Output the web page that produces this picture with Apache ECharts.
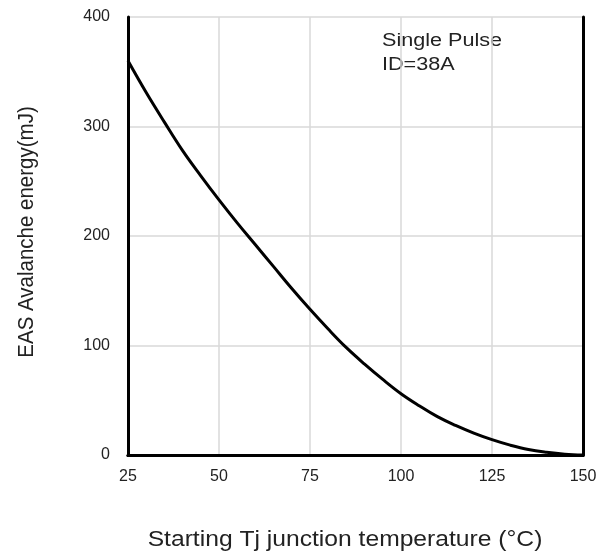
<!DOCTYPE html>
<html><head><meta charset="utf-8">
<script src="https://cdn.jsdelivr.net/npm/echarts@6/dist/echarts.min.js"></script>
<style>html,body{margin:0;padding:0;background:#fff}#c{width:611px;height:556px}</style>
</head><body><div id="c"></div>
<script>
const temps = [25,30,35,40,45,50,55,60,65,70,75,80,85,90,95,100,105,110,115,120,125,130,135,140,145,150];
const energy = [360,331,304,278,255,233,212,192,172,152,133,115,98,83,69,56,45,35,27,20,14,9,5,2.5,0.8,0];
const xTicks = [25,50,75,100,125,150];
const yTicks = [0,100,200,300,400];
const xTitle = 'Starting Tj junction temperature (°C)';
const yTitle = 'EAS Avalanche energy(mJ)';
const noteLines = ['Single Pulse','ID=38A'];

const chart = echarts.init(document.getElementById('c'));
const font = 'Liberation Sans, Arial, sans-serif';
const txt = '#222';
const border = {show:true,lineStyle:{color:'#000',width:3}};
chart.setOption({
  animation:false,
  grid:{left:128,right:28,top:17,bottom:101,show:false},
  xAxis:[{type:'value',min:xTicks[0],max:xTicks[xTicks.length-1],interval:25,
    axisLine:border,axisTick:{show:false},
    splitLine:{show:true,lineStyle:{color:'#d9d9d9',width:1.5}},
    axisLabel:{color:txt,fontSize:16,fontFamily:font,margin:14}},
    {type:'value',position:'top',min:xTicks[0],max:xTicks[xTicks.length-1],interval:25,
    axisLine:border,axisTick:{show:false},splitLine:{show:false},axisLabel:{show:false}}],
  yAxis:[{type:'value',min:yTicks[0],max:yTicks[yTicks.length-1],interval:100,
    axisLine:border,axisTick:{show:false},
    splitLine:{show:true,lineStyle:{color:'#d9d9d9',width:1.5}},
    axisLabel:{color:txt,fontSize:16,fontFamily:font,margin:18}},
    {type:'value',position:'right',min:yTicks[0],max:yTicks[yTicks.length-1],interval:100,
    axisLine:border,axisTick:{show:false},splitLine:{show:false},axisLabel:{show:false}}],
  series:[{type:'line',data:temps.map((t,i)=>[t,energy[i]]),smooth:0.4,showSymbol:false,
    lineStyle:{color:'#000',width:3},z:3}],
  graphic:[
    {type:'text',x:382,y:29,scaleX:1.2,style:{text:noteLines.join('\n'),fill:txt,font:'18px '+font,lineHeight:24}},
    {type:'text',x:345,y:540,scaleX:1.12,style:{text:xTitle,fill:txt,font:'22px '+font,align:'center',verticalAlign:'middle'}},
    {type:'text',x:27,y:232,rotation:Math.PI/2,scaleY:1.12,style:{text:yTitle,fill:txt,font:'20.5px '+font,align:'center',verticalAlign:'middle'}}
  ]
});
</script></body></html>
